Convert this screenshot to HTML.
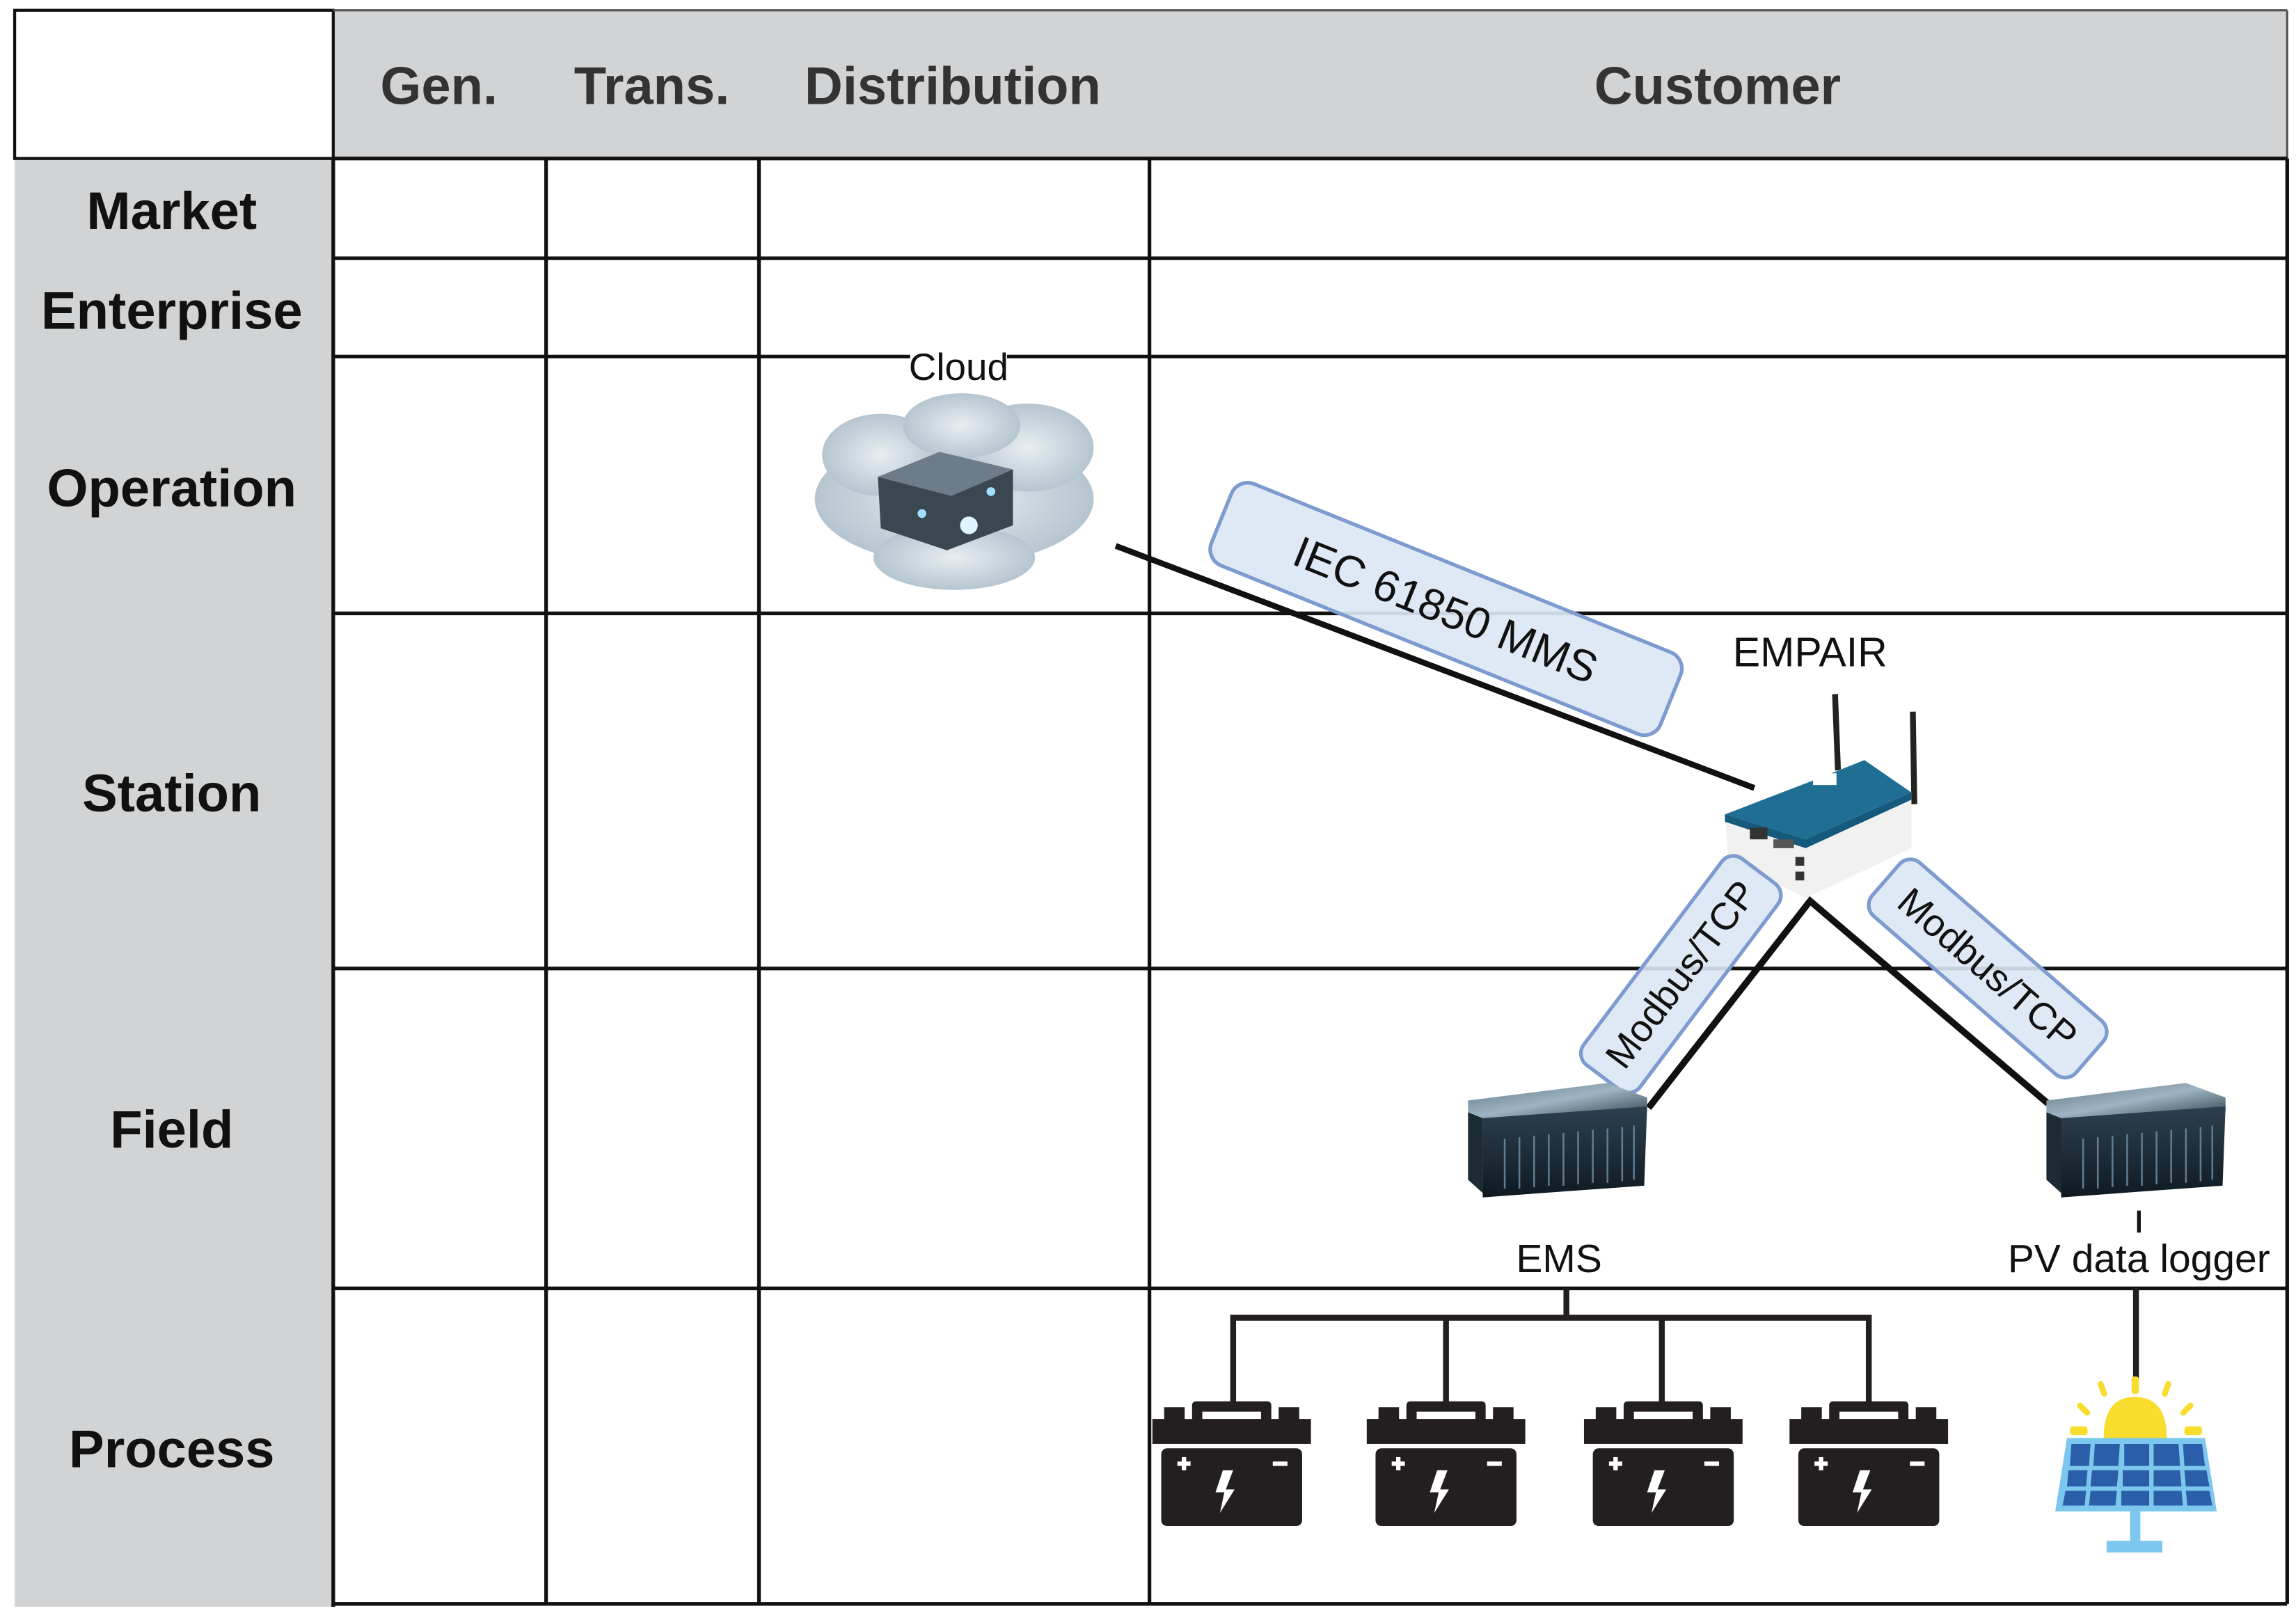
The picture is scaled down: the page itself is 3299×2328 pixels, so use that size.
<!DOCTYPE html>
<html><head><meta charset="utf-8"><style>
html,body{margin:0;padding:0;background:#fff}
svg{display:block}
text{font-family:"Liberation Sans",Arial,sans-serif}
</style></head><body>
<svg width="3299" height="2328" viewBox="0 0 1564 1104" preserveAspectRatio="none" xmlns="http://www.w3.org/2000/svg">
<defs>
<linearGradient id="srvTop" x1="0" y1="0" x2="1" y2="1"><stop offset="0" stop-color="#5d7585"/><stop offset="0.5" stop-color="#9fb4c2"/><stop offset="1" stop-color="#2c3e4a"/></linearGradient>
<linearGradient id="srvFront" x1="0" y1="0" x2="0" y2="1"><stop offset="0" stop-color="#2d4050"/><stop offset="1" stop-color="#0f1a22"/></linearGradient>
<radialGradient id="cloudG" cx="0.5" cy="0.5" r="0.5"><stop offset="0" stop-color="#e8eef2"/><stop offset="1" stop-color="#b5c5cf"/></radialGradient>
<g id="batt">
<rect x="0" y="12" width="108" height="17" fill="#231f20"/>
<rect x="8" y="4" width="14" height="10" fill="#231f20"/>
<rect x="86" y="4" width="14" height="10" fill="#231f20"/>
<path d="M27 14 V3 Q27 0 30 0 H78 Q81 0 81 3 V14 H74 V7 H34 V14 Z" fill="#231f20"/>
<rect x="6" y="32" width="96" height="53" rx="4" fill="#231f20"/>
<rect x="17" y="41" width="9" height="3" fill="#fff"/><rect x="20" y="38" width="3" height="9" fill="#fff"/>
<rect x="82" y="41" width="10" height="3" fill="#fff"/>
<path d="M48 47 H55 L50 60 H56 L46 76 L49 62 H43 Z" fill="#fff"/>
</g>
<g id="server">
<path d="M0 12 L95 0 L122 10 L122 20 L10 24 L0 20 Z" fill="url(#srvTop)"/>
<path d="M0 20 L10 24 L10 75 L0 66 Z" fill="#1c2a33"/>
<path d="M10 24 L122 16 L120 70 L10 78 Z" fill="url(#srvFront)"/>
<g stroke="#5f7c90" stroke-width="1.2">
<line x1="25" y1="38" x2="25" y2="72"/><line x1="35" y1="37" x2="35" y2="72"/><line x1="45" y1="36" x2="45" y2="71"/><line x1="55" y1="35" x2="55" y2="70"/><line x1="65" y1="34" x2="65" y2="70"/><line x1="75" y1="33" x2="75" y2="69"/><line x1="85" y1="32" x2="85" y2="68"/><line x1="95" y1="31" x2="95" y2="68"/><line x1="105" y1="30" x2="105" y2="67"/><line x1="113" y1="29" x2="113" y2="66"/>
</g>
</g>
</defs>

<!-- header -->
<rect x="227" y="7" width="1331" height="101" fill="#d1d3d4"/>
<rect x="10" y="108" width="217" height="987" fill="#d1d3d4"/>
<rect x="10" y="7" width="217" height="101" fill="#fff" stroke="#111" stroke-width="2"/>
<line x1="227" y1="7" x2="1558" y2="7" stroke="#555" stroke-width="1.5"/>
<line x1="1558" y1="7" x2="1558" y2="108" stroke="#555" stroke-width="1.5"/>

<g fill="#333" font-weight="bold" font-size="36" text-anchor="middle">
<text x="299" y="71">Gen.</text>
<text x="444" y="71">Trans.</text>
<text x="649" y="71">Distribution</text>
<text x="1170" y="71">Customer</text>
</g>
<g fill="#111" font-weight="bold" font-size="36" text-anchor="middle">
<text x="117" y="156">Market</text>
<text x="117" y="224">Enterprise</text>
<text x="117" y="345">Operation</text>
<text x="117" y="553">Station</text>
<text x="117" y="782">Field</text>
<text x="117" y="1000">Process</text>
</g>

<!-- grid -->
<g stroke="#111" stroke-width="2.5" fill="none">
<line x1="227" y1="108" x2="1558" y2="108"/>
<line x1="227" y1="176" x2="1558" y2="176"/>
<line x1="227" y1="243" x2="1558" y2="243"/>
<line x1="227" y1="418" x2="1558" y2="418"/>
<line x1="227" y1="660" x2="1558" y2="660"/>
<line x1="227" y1="878" x2="1558" y2="878"/>
<line x1="227" y1="1093" x2="1558" y2="1093"/>
<line x1="227" y1="108" x2="227" y2="1095"/>
<line x1="372" y1="108" x2="372" y2="1093"/>
<line x1="517" y1="108" x2="517" y2="1093"/>
<line x1="783" y1="108" x2="783" y2="1093"/>
<line x1="1558" y1="108" x2="1558" y2="1093"/>
</g>

<!-- cloud -->
<rect x="620" y="240" width="66" height="20" fill="#fff"/>
<text x="653" y="259" font-size="26" text-anchor="middle" fill="#111">Cloud</text>
<g fill="url(#cloudG)">
<ellipse cx="650" cy="340" rx="95" ry="45"/>
<ellipse cx="600" cy="310" rx="40" ry="28"/>
<ellipse cx="700" cy="305" rx="45" ry="30"/>
<ellipse cx="655" cy="290" rx="40" ry="22"/>
<ellipse cx="650" cy="380" rx="55" ry="22"/>
</g>
<path d="M598 325 L640 308 L690 320 L690 358 L645 375 L600 360 Z" fill="#3a4650"/>
<path d="M598 325 L640 308 L690 320 L648 338 Z" fill="#6c7c88"/>
<circle cx="660" cy="358" r="6" fill="#dff4ff"/>
<circle cx="628" cy="350" r="3" fill="#9fe0ff"/><circle cx="675" cy="335" r="3" fill="#9fe0ff"/>

<!-- IEC line -->
<line x1="760" y1="372" x2="1195" y2="537" stroke="#111" stroke-width="4"/>
<g transform="translate(985,415) rotate(22)">
<rect x="-165" y="-30" width="330" height="60" rx="12" fill="#dce6f4" fill-opacity="0.92" stroke="#7e9bcf" stroke-width="2.5"/>
<text x="0" y="11" font-size="30" text-anchor="middle" fill="#111">IEC 61850 MMS</text>
</g>

<!-- EMPAIR -->
<text x="1233" y="454" font-size="28" text-anchor="middle" fill="#111">EMPAIR</text>
<line x1="1250" y1="473" x2="1252" y2="525" stroke="#222" stroke-width="4"/>
<line x1="1303" y1="485" x2="1304" y2="548" stroke="#222" stroke-width="4"/>
<path d="M1175 555 L1270 518 L1302 540 L1302 578 L1230 612 L1177 585 Z" fill="#f1f1f1"/>
<path d="M1175 555 L1240 530 L1270 518 L1302 540 L1230 572 Z" fill="#1f6f95"/>
<path d="M1175 555 L1230 572 L1302 540 L1302 545 L1230 578 L1175 560 Z" fill="#155a7c"/>
<rect x="1235" y="527" width="16" height="8" fill="#fff"/>
<rect x="1192" y="564" width="12" height="8" fill="#333"/><rect x="1208" y="572" width="14" height="6" fill="#555"/>
<rect x="1223" y="584" width="6" height="6" fill="#333"/><rect x="1223" y="594" width="6" height="6" fill="#333"/>

<!-- Modbus lines -->
<path d="M1123 755 L1233 614 L1395 752" fill="none" stroke="#111" stroke-width="4.5"/>
<g transform="translate(1145,664) rotate(-53)">
<rect x="-88" y="-24" width="176" height="48" rx="10" fill="#dce6f4" fill-opacity="0.9" stroke="#7e9bcf" stroke-width="2.5"/>
<text x="0" y="9" font-size="26" text-anchor="middle" fill="#111">Modbus/TCP</text>
</g>
<g transform="translate(1354,660) rotate(41)">
<rect x="-92" y="-24" width="184" height="48" rx="10" fill="#dce6f4" fill-opacity="0.9" stroke="#7e9bcf" stroke-width="2.5"/>
<text x="0" y="9" font-size="26" text-anchor="middle" fill="#111">Modbus/TCP</text>
</g>

<!-- servers -->
<use href="#server" transform="translate(1000,738)"/>
<use href="#server" transform="translate(1394,738)"/>
<line x1="1457" y1="825" x2="1457" y2="840" stroke="#111" stroke-width="2.5"/>
<text x="1062" y="867" font-size="27" text-anchor="middle" fill="#111">EMS</text>
<text x="1457" y="867" font-size="27" text-anchor="middle" fill="#111">PV data logger</text>

<!-- tree -->
<g stroke="#231f20" stroke-width="4" fill="none">
<line x1="1067" y1="878" x2="1067" y2="898"/>
<polyline points="840,958 840,898 1273,898 1273,958"/>
<line x1="985" y1="898" x2="985" y2="958"/>
<line x1="1132" y1="898" x2="1132" y2="958"/>
<line x1="1455" y1="878" x2="1455" y2="940"/>
</g>

<!-- batteries -->
<use href="#batt" transform="translate(785,955)"/>
<use href="#batt" transform="translate(931,955)"/>
<use href="#batt" transform="translate(1079,955)"/>
<use href="#batt" transform="translate(1219,955)"/>

<!-- solar -->
<g fill="#f9dd2e">
<path d="M1433 980 Q1433 952 1454 952 Q1476 952 1476 980 Z"/>
<rect x="1452" y="938" width="5" height="12" rx="2"/>
<rect x="1430" y="941" width="4" height="11" rx="2" transform="rotate(-20 1432 946)"/>
<rect x="1474" y="941" width="4" height="11" rx="2" transform="rotate(20 1476 946)"/>
<rect x="1417" y="955" width="4" height="11" rx="2" transform="rotate(-45 1419 960)"/>
<rect x="1488" y="955" width="4" height="11" rx="2" transform="rotate(45 1490 960)"/>
<rect x="1410" y="972" width="12" height="6" rx="2"/>
<rect x="1488" y="972" width="12" height="6" rx="2"/>
</g>
<path d="M1408 980 H1502 L1510 1030 H1400 Z" fill="#7cc7ee"/>
<rect x="1451" y="1030" width="7" height="22" fill="#7cc7ee"/>
<rect x="1435" y="1050" width="38" height="8" fill="#7cc7ee"/>
<g fill="#2a5ea8">
<path d="M1411 984 H1424 L1423 999 H1410 Z"/><path d="M1427 984 H1444 L1443 999 H1426 Z"/><path d="M1447 984 H1464 L1464 999 H1447 Z"/><path d="M1467 984 H1484 L1485 999 H1467 Z"/><path d="M1487 984 H1500 L1502 999 H1488 Z"/>
<path d="M1409 1002 H1422 L1421 1013 H1408 Z"/><path d="M1425 1002 H1443 L1442 1013 H1424 Z"/><path d="M1446 1002 H1464 L1464 1013 H1446 Z"/><path d="M1467 1002 H1485 L1486 1013 H1467 Z"/><path d="M1488 1002 H1503 L1505 1013 H1489 Z"/>
<path d="M1407 1016 H1421 L1420 1026 H1405 Z"/><path d="M1424 1016 H1442 L1441 1026 H1423 Z"/><path d="M1445 1016 H1464 L1464 1026 H1445 Z"/><path d="M1467 1016 H1486 L1487 1026 H1467 Z"/><path d="M1489 1016 H1505 L1507 1026 H1490 Z"/>
</g>
</svg>
</body></html>
